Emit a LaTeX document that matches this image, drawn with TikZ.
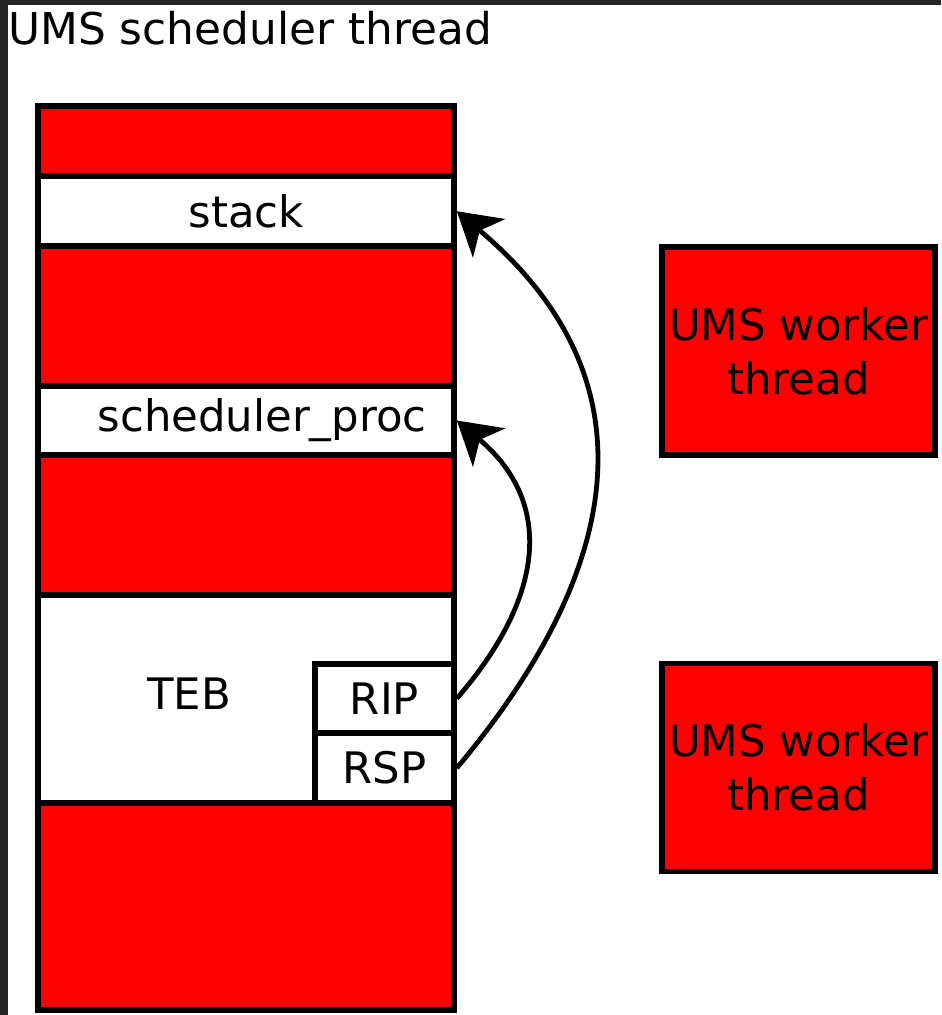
\documentclass[tikz,border=0pt]{standalone}
\usepackage{fontspec}
\setmainfont{DejaVu Sans}
\usetikzlibrary{arrows.meta, positioning}

\begin{document}
\begin{tikzpicture}[
  x=0.5pt, y=0.5pt,
  cell/.style={draw, line width=2.8pt, minimum width=208pt, inner sep=0pt, fill=white, font=\fontsize{21.7}{27}\selectfont},
  redcell/.style={cell, fill=red},
  reg/.style={cell, minimum width=69.5pt},
  worker/.style={draw, line width=2.8pt, fill=red, minimum width=136.5pt, minimum height=104pt, inner sep=0pt, align=center, font=\fontsize{21.7}{27}\selectfont},
  arr/.style={-{Stealth[length=21pt, width=25pt, inset=6pt]}, line width=2.4pt}
]
  % screenshot frame
  \fill[black!85] (0,0) rectangle (941,-1015);
  \fill[white] (8,-5) rectangle (941,-1015);
  \useasboundingbox (0,0) rectangle (941,-1015);

  \node[anchor=base west, inner sep=0pt, font=\fontsize{21.9}{27}\selectfont] (title) at (8,-45) {UMS scheduler thread};

  % scheduler thread memory column
  \node[redcell, minimum height=35pt] (top) at (246,-141) {};
  \node[cell, minimum height=34.75pt] (stack) at (246,-211.25) {stack};
  \node[redcell, minimum height=70pt] (mid1) at (246,-316) {};
  \node[cell, minimum height=34.5pt] (sched) at (246,-420.5) {\hspace{16pt}scheduler\_proc};
  \node[redcell, minimum height=70pt] (mid2) at (246,-525) {};
  \node[cell, minimum height=104pt] (teb) at (246,-699) {};
  \node[redcell, minimum height=103.5pt] (bottom) at (246,-906.5) {};
  \node[inner sep=0pt, font=\fontsize{21.7}{27}\selectfont] (teblabel) at (189,-694) {TEB};

  \node[reg, minimum height=34.5pt] (rip) at (384.5,-698.5) {RIP};
  \node[reg, minimum height=35pt] (rsp) at (384.5,-768) {RSP};

  % worker threads
  \node[worker] (w1) at (798.5,-351) {UMS worker\\thread};
  \node[worker] (w2) at (798.5,-767.5) {UMS worker\\thread};

  \draw[arr] (rsp.east) to[out=50, in=-40, looseness=1.2] (stack.east);
  \draw[arr] (rip.east) to[out=49, in=-40, looseness=1.2] (sched.east);
\end{tikzpicture}
\end{document}
